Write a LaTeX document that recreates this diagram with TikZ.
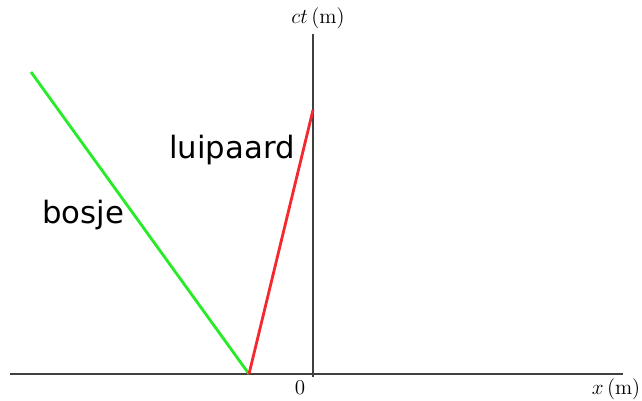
\documentclass[tikz,border=0pt]{standalone}
\usepackage{fontspec}
\newfontfamily\lblfont{DejaVu Sans}
\usepackage{tikz}
\usetikzlibrary{positioning,calc}

\begin{document}
\begin{tikzpicture}[
      x=0.02cm, y=-0.02cm,
      axis/.style={draw=black!75, line width=1.4pt},
      world/.style={line width=1.6pt},
      axlbl/.style={font=\large, inner sep=0pt},
      objlbl/.style={font=\lblfont\fontsize{17.5}{20}\selectfont, inner sep=0pt}
  ]
    \useasboundingbox (0,0) rectangle (642,401);

    % assen
    \coordinate (xl) at (10,374);
    \coordinate (xr) at (623,374);
    \coordinate (tb) at (313,377);
    \coordinate (tt) at (313,34);
    \draw[axis] (xl) -- (xr);
    \draw[axis] (tb) -- (tt);

    \node[axlbl] (ctlbl) at (318,18) {$ct\,(\mathrm{m})$};
    \node[axlbl] (xlbl)  at (616,389) {$x\,(\mathrm{m})$};
    \node[axlbl] (nul)   at (300,388) {$0$};

    % wereldlijnen
    \coordinate (start) at (249,374);
    \coordinate (bush)  at (31,72);
    \coordinate (leo)   at (313,110);
    \draw[world, draw={rgb,255:red,40;green,235;blue,40}] (start) -- (bush);
    \draw[world, draw={rgb,255:red,245;green,40;blue,45}] (start) -- (leo);

    \node[objlbl] (luipaard) at (232,150) {luipaard};
    \node[objlbl] (bosje)    at (83,215) {bosje};
  \end{tikzpicture}
\end{document}
